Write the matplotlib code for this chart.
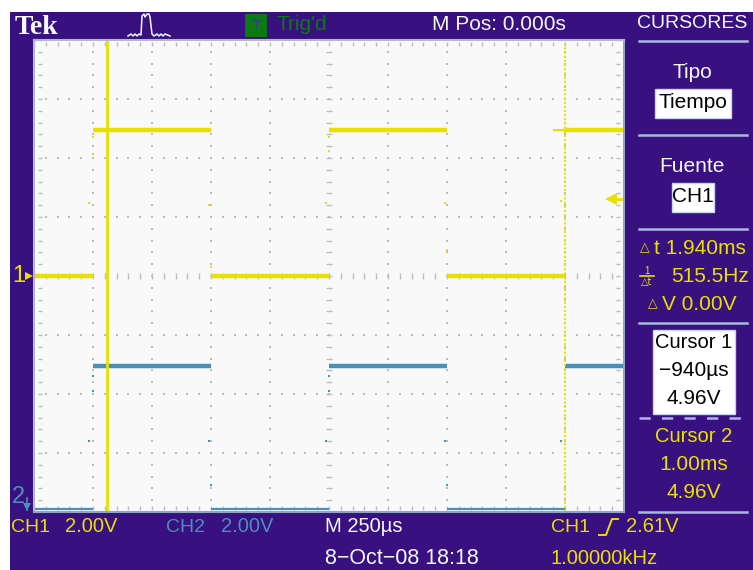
import numpy as np
import matplotlib
matplotlib.use('Agg')
import matplotlib.pyplot as plt

# colores de la pantalla
MORADO = '#38107f'
PANTALLA = '#f9f9f9'
AMARILLO = '#e8e000'
AZUL = '#4a8fb5'
VERDE = '#0b7a10'
BLANCO = '#f4f8ff'
FUENTE = ['Liberation Sans Narrow', 'Liberation Sans', 'DejaVu Sans']

# datos: tiempo en us, tension en divisiones de pantalla expresadas en V
t_alto_ini = [-1000, 0, 1000]
t_alto_fin = [-500, 500, 1250]
t_bajo_ini = [-1250, -500, 500]
t_bajo_fin = [-1000, 0, 1000]

ch1_alto = [4.96, 4.96, 4.96]
ch1_bajo = [0.0, 0.0, 0.0]
ch2_alto = [-3.05, -3.05, -3.05]
ch2_bajo = [-7.9, -7.9, -7.9]

ch1_puntos_t = [-1000, -1000, -1015, -510, -500, 0, 0, -12, 490, 500, 985]
ch1_puntos_v = [4.72, 4.15, 2.47, 2.40, 0.3, 4.72, 4.25, 2.47, 2.47, 0.88, 2.54]
ch2_puntos_t = [-1000, -1000, -1015, -510, -500, 0, 0, -12, 490, 500, 985]
ch2_puntos_v = [-3.4, -3.9, -5.6, -5.6, -7.1, -3.4, -3.9, -5.6, -5.6, -7.1, -5.6]

cursor1_t = -940
cursor2_t = 1000
disparo_v = 2.61

fig = plt.figure(figsize=(7.53, 5.70), dpi=100, facecolor='white')

# capa en pixeles para el marco y los textos
capa = fig.add_axes([0, 0, 1, 1])
capa.set_xlim(0, 753)
capa.set_ylim(570, 0)
capa.axis('off')
capa.add_patch(plt.Rectangle((10, 12), 743, 558, color=MORADO, lw=0))

# pantalla del osciloscopio
ax = fig.add_axes([34 / 753, 1 - 512 / 570, 590 / 753, 472 / 570])
ax.set_facecolor(PANTALLA)
ax.set_xlim(-1250, 1250)
ax.set_ylim(-8, 8)
for lado in ax.spines.values():
    lado.set_color('#b4b8c8')
    lado.set_linewidth(1.5)
ax.spines['bottom'].set_color('#8fa4c8')
ax.spines['right'].set_color('#8fa4c8')
ax.set_xticks([])
ax.set_yticks([])

# reticula
div_x = np.arange(-1000, 1001, 250)
div_y = np.arange(-6, 7, 2)
sub_x = np.arange(-1250, 1251, 50)
sub_y = np.arange(-8, 8.1, 0.4)
GRIS = '#bcbcbc'
for x in div_x:
    if x != 0:
        ax.plot(np.full_like(sub_y, x), sub_y, ls='', marker='s', ms=1.5, color=GRIS, mew=0)
ax.plot(np.zeros_like(sub_y), sub_y, ls='', marker='_', ms=5, color=GRIS, mew=1)
for y in div_y:
    if y != 0:
        ax.plot(sub_x, np.full_like(sub_x, y, dtype=float), ls='', marker='s', ms=1.5, color=GRIS, mew=0)
ax.plot(sub_x, np.zeros_like(sub_x), ls='', marker='|', ms=5, color=GRIS, mew=1)
ax.plot(sub_x, np.full_like(sub_x, 7.85, dtype=float), ls='', marker='|', ms=3.5, color=GRIS, mew=1)
ax.plot(sub_x, np.full_like(sub_x, -7.85, dtype=float), ls='', marker='|', ms=3.5, color=GRIS, mew=1)
ax.plot(np.full_like(sub_y, -1225), sub_y, ls='', marker='_', ms=3.5, color=GRIS, mew=1)
ax.plot(np.full_like(sub_y, 1225), sub_y, ls='', marker='_', ms=3.5, color=GRIS, mew=1)

# canal 2
ax.hlines(ch2_alto, t_alto_ini, t_alto_fin, color=AZUL, lw=3.2)
ax.hlines(ch2_bajo, t_bajo_ini, t_bajo_fin, color=AZUL, lw=1.6)
ax.plot(ch2_puntos_t, ch2_puntos_v, ls='', marker='s', ms=1.8, color=AZUL, mew=0)

# canal 1
ax.hlines(ch1_alto, t_alto_ini, t_alto_fin, color=AMARILLO, lw=3.2)
ax.hlines(ch1_bajo, t_bajo_ini, t_bajo_fin, color=AMARILLO, lw=3.2)
ax.hlines(ch1_alto[0], 950, 1000, color=AMARILLO, lw=1.5)
ax.plot(ch1_puntos_t, ch1_puntos_v, ls='', marker='s', ms=1.8, color=AMARILLO, mew=0)

# cursores
ax.axvline(cursor1_t, color=AMARILLO, lw=2)
ax.axvline(cursor2_t, color=AMARILLO, lw=1.5, ls=(0, (1, 1)))

# flecha de nivel de disparo
ax.plot([1195], [disparo_v], marker='<', ms=8, color=AMARILLO, mew=0, clip_on=False)
ax.hlines(disparo_v, 1195, 1250, color=AMARILLO, lw=2)


def texto(x, y, s, color=BLANCO, size=15, ha='center', **kw):
    kw.setdefault('family', FUENTE)
    capa.text(x, y, s, color=color, fontsize=size, ha=ha, va='center', zorder=5, **kw)


def caja(x0, y0, x1, y1):
    capa.add_patch(plt.Rectangle((x0, y0), x1 - x0, y1 - y0, fc='white', ec='#c8d4f0', lw=1, zorder=4))


# cabecera
texto(15, 27, 'Tek', size=20, ha='left', family=['Liberation Serif'], weight='bold')
capa.plot([128, 131, 133, 135, 137, 139, 141, 142, 144, 145, 147, 149, 150, 152, 154, 157, 159, 161, 163, 165, 170],
          [36, 34, 36, 34, 36, 34, 35, 16, 14, 17, 14, 14, 17, 34, 36, 34, 36, 34, 36, 34, 36], color=BLANCO, lw=1.1)
capa.add_patch(plt.Rectangle((245, 14), 22, 23, color=VERDE, lw=0))
texto(256, 26, 'T', color='#30408a', size=11)
texto(277, 25, "Trig'd", color=VERDE, size=15, ha='left')
texto(432, 24, 'M Pos: 0.000s', size=15, ha='left')

# panel derecho
for y in [41, 135, 229, 323, 512]:
    capa.plot([639, 747], [y, y], color='#a9b8e0', lw=1.8)
capa.plot([639, 747], [418, 418], color='#a9b8e0', lw=1.8, ls=(0, (4.5, 4.5)))
texto(692, 24, 'CURSORES', size=14)
texto(692, 73, 'Tipo', size=15)
caja(655, 89, 731, 118)
texto(693, 103, 'Tiempo', color='black', size=15)
texto(692, 167, 'Fuente', size=15)
caja(672, 183, 714, 212)
texto(693, 197, 'CH1', color='black', size=15)
texto(640, 248, '△', color=AMARILLO, size=9, ha='left', family=['DejaVu Sans'])
texto(654, 248, 't 1.940ms', color=AMARILLO, size=15, ha='left')
texto(647, 271, '1', color=AMARILLO, size=7)
capa.plot([640, 654], [276, 276], color=AMARILLO, lw=1.2)
texto(647, 282, '△t', color=AMARILLO, size=7, family=['DejaVu Sans'])
texto(671, 276, '515.5Hz', color=AMARILLO, size=15, ha='left')
texto(648, 304, '△', color=AMARILLO, size=9, ha='left', family=['DejaVu Sans'])
texto(662, 304, 'V 0.00V', color=AMARILLO, size=15, ha='left')
caja(653, 330, 735, 414)
texto(694, 342, 'Cursor 1', color='black', size=14.5)
texto(694, 370, '−940µs', color='black', size=15)
texto(694, 398, '4.96V', color='black', size=15)
texto(694, 436, 'Cursor 2', color=AMARILLO, size=14.5)
texto(694, 465, '1.00ms', color=AMARILLO, size=15)
texto(694, 492, '4.96V', color=AMARILLO, size=15)

# marcas de canal
texto(12, 276, '1', color=AMARILLO, size=17, ha='left')
capa.plot([29], [276], marker='>', ms=6, color=AMARILLO, mew=0, zorder=5)
texto(12, 497, '2', color=AZUL, size=17, ha='left')
capa.plot([27, 27], [498, 510], color=AZUL, lw=1.2, zorder=5)
capa.plot([27], [507], marker='v', ms=6, color=AZUL, mew=0, zorder=5)

# pie
texto(11, 527, 'CH1', color=AMARILLO, size=14, ha='left')
texto(65, 527, '2.00V', color=AMARILLO, size=14.5, ha='left')
texto(166, 527, 'CH2', color=AZUL, size=14, ha='left')
texto(221, 527, '2.00V', color=AZUL, size=14.5, ha='left')
texto(325, 527, 'M 250µs', size=14.5, ha='left')
texto(325, 558, '8−Oct−08 18:18', size=15.5, ha='left')
texto(551, 527, 'CH1', color=AMARILLO, size=14, ha='left')
capa.plot([599, 606, 612, 618], [535, 535, 519, 519], color=AMARILLO, lw=1.4)
texto(626, 527, '2.61V', color=AMARILLO, size=14.5, ha='left')
texto(551, 558, '1.00000kHz', color=AMARILLO, size=14.5, ha='left')

fig.savefig('out.png', dpi=100)
